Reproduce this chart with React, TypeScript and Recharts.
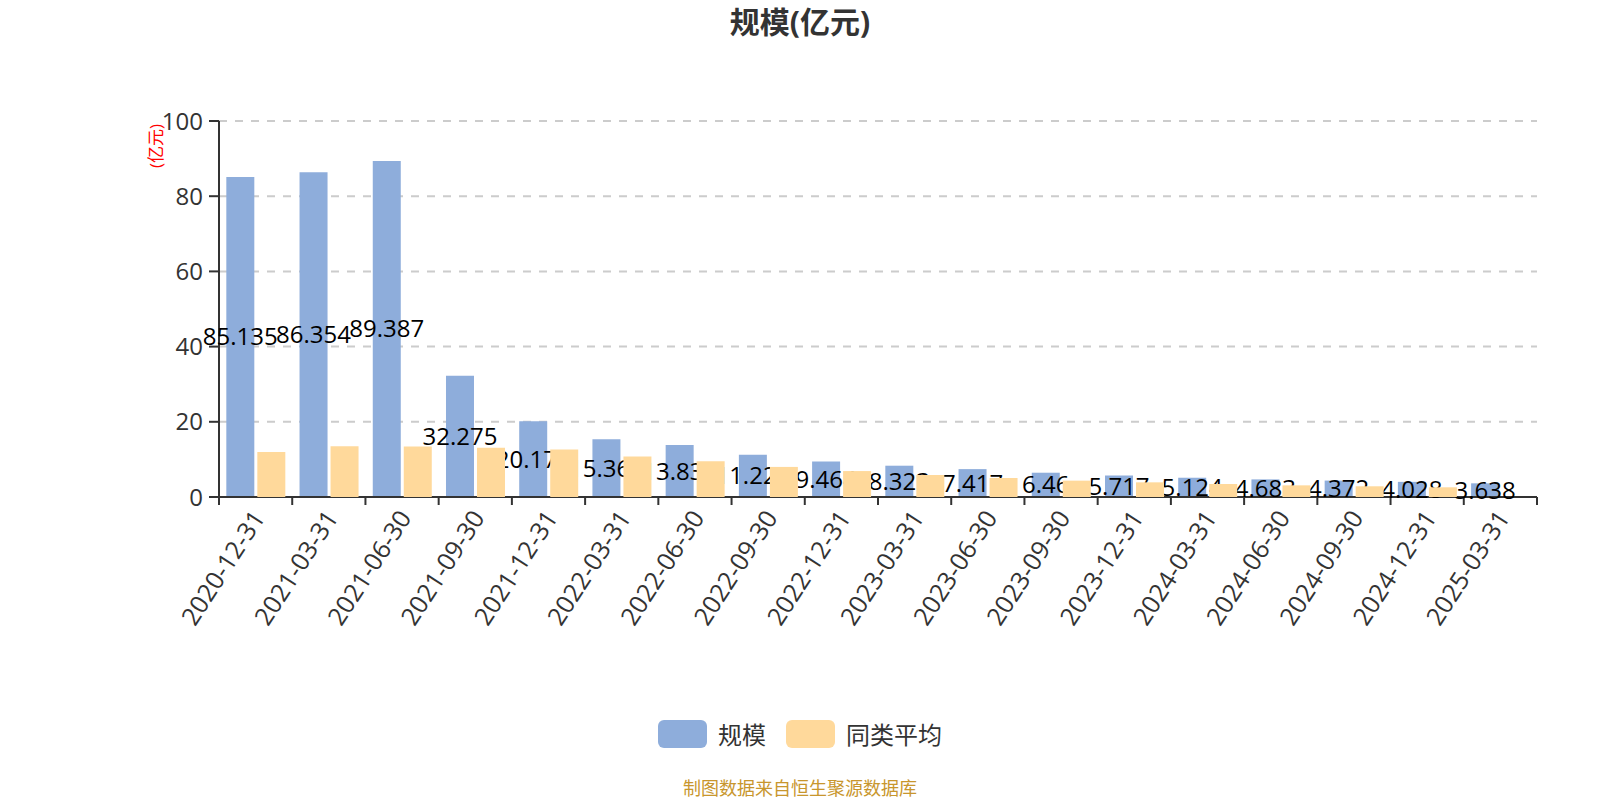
import React from 'react';
import { BarChart, Bar, XAxis, YAxis, CartesianGrid, LabelList } from 'recharts';

const dates = [
  '2020-12-31', '2021-03-31', '2021-06-30', '2021-09-30', '2021-12-31', '2022-03-31',
  '2022-06-30', '2022-09-30', '2022-12-31', '2023-03-31', '2023-06-30', '2023-09-30',
  '2023-12-31', '2024-03-31', '2024-06-30', '2024-09-30', '2024-12-31', '2025-03-31',
];
const scaleValues = [
  85.135, 86.354, 89.387, 32.275, 20.179, 15.364, 13.839, 11.226, 9.464,
  8.323, 7.417, 6.46, 5.717, 5.124, 4.683, 4.372, 4.028, 3.638,
];
const peerAverage = [
  12.0, 13.5, 13.4, 13.1, 12.6, 10.8, 9.5, 8.0, 6.9,
  5.85, 5.05, 4.35, 3.9, 3.46, 3.1, 2.85, 2.58, null,
];
const yTicks = [0, 20, 40, 60, 80, 100];

const FONT = "'Open Sans', 'Noto Sans CJK SC', sans-serif";
const W = 1600;
const H = 800;
const MARGIN = { top: 121, right: 63, left: 0, bottom: 3 };
const Y_AXIS_W = 219;
const BAND = (W - MARGIN.left - Y_AXIS_W - MARGIN.right) / dates.length;

const chartData = dates.map((d, i) => ({
  date: d,
  规模: scaleValues[i],
  同类平均: peerAverage[i],
}));

// echarts-style ticks: marks on category boundaries, labels slanted
const DateTick = (props: any) => {
  const { x, y, payload, index } = props;
  const left = x - BAND / 2;
  const right = x + BAND / 2;
  const ax = x + 3;
  const ay = y + 16;
  return (
    <g>
      <line x1={left} y1={y} x2={left} y2={y + 8} stroke="#333" strokeWidth={2} />
      {index === dates.length - 1 && (
        <line x1={right} y1={y} x2={right} y2={y + 8} stroke="#333" strokeWidth={2} />
      )}
      <text
        x={ax}
        y={ay}
        dy="0.35em"
        textAnchor="end"
        transform={`rotate(-57, ${ax}, ${ay})`}
        fontSize={25}
        fill="#333"
        fontFamily={FONT}
      >
        {payload.value}
      </text>
    </g>
  );
};

const UnitLabel = (props: any) => {
  const { viewBox } = props;
  const cx = viewBox.x + 155;
  const cy = viewBox.y + 25;
  return (
    <text
      x={cx}
      y={cy}
      textAnchor="middle"
      dominantBaseline="central"
      transform={`rotate(-90, ${cx}, ${cy})`}
      fontSize={17}
      fill="#ff0000"
      fontFamily={FONT}
    >
      (亿元)
    </text>
  );
};

export default function App() {
  return (
    <div
      style={{
        position: 'absolute',
        left: 0,
        top: 0,
        width: W,
        height: H,
        background: '#fff',
        fontFamily: FONT,
      }}
    >
      <div
        style={{
          position: 'absolute',
          top: 4,
          left: 0,
          width: W,
          textAlign: 'center',
          fontSize: 30,
          fontWeight: 'bold',
          color: '#333',
          lineHeight: '36px',
        }}
      >
        规模(亿元)
      </div>

      <BarChart
        width={W}
        height={H}
        data={chartData}
        margin={MARGIN}
        barCategoryGap="10%"
        barGap={3}
      >
        <CartesianGrid vertical={false} stroke="#ccc" strokeWidth={2} strokeDasharray="8 8" />
        <XAxis
          dataKey="date"
          interval={0}
          height={300}
          tickLine={false}
          tickSize={0}
          tickMargin={0}
          axisLine={{ stroke: '#333', strokeWidth: 2 }}
          tick={<DateTick />}
        />
        <YAxis
          width={Y_AXIS_W}
          domain={[0, 100]}
          ticks={yTicks}
          tickSize={10}
          tickMargin={6}
          axisLine={{ stroke: '#333', strokeWidth: 2 }}
          tickLine={{ stroke: '#333', strokeWidth: 2 }}
          tick={{ fontSize: 24, fill: '#333', fontFamily: FONT }}
          label={<UnitLabel />}
        />
        <Bar dataKey="规模" fill="#8eaddb" isAnimationActive={false}>
          <LabelList
            dataKey="规模"
            position="center"
            fill="#000"
            fontSize={24}
            fontFamily={FONT}
          />
        </Bar>
        {/* drawn above the value labels, as in the original */}
        <Bar dataKey="同类平均" fill="#ffd99b" isAnimationActive={false} zIndex={2100} />
      </BarChart>

      <div
        style={{
          position: 'absolute',
          top: 716,
          left: 0,
          width: W,
          display: 'flex',
          justifyContent: 'center',
          alignItems: 'center',
          fontSize: 24,
          color: '#333',
        }}
      >
        <span style={{ width: 49, height: 28, borderRadius: 6, background: '#8eaddb', display: 'inline-block' }} />
        <span style={{ marginLeft: 11, marginRight: 20 }}>规模</span>
        <span style={{ width: 49, height: 28, borderRadius: 6, background: '#ffd99b', display: 'inline-block' }} />
        <span style={{ marginLeft: 11 }}>同类平均</span>
      </div>

      <div
        style={{
          position: 'absolute',
          top: 776,
          left: 0,
          width: W,
          textAlign: 'center',
          fontSize: 18,
          lineHeight: '24px',
          color: '#c8962d',
        }}
      >
        制图数据来自恒生聚源数据库
      </div>
    </div>
  );
}
